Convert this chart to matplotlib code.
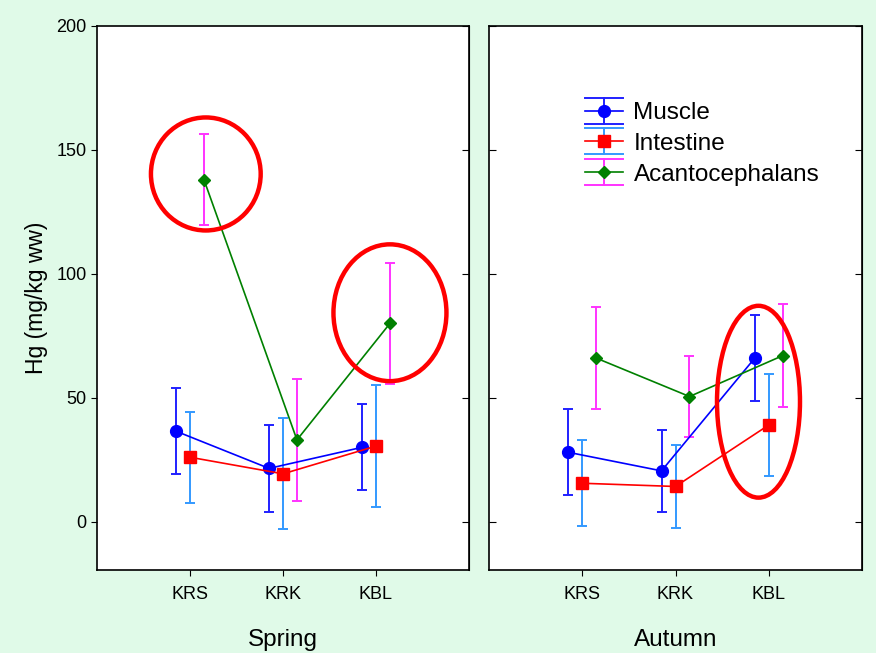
import matplotlib
matplotlib.use("Agg")
import matplotlib.pyplot as plt
import numpy as np
from matplotlib.patches import Ellipse
from matplotlib.lines import Line2D
from matplotlib.legend_handler import HandlerBase

plt.rcParams['font.family'] = ['Liberation Sans', 'DejaVu Sans']

sites = ['KRS', 'KRK', 'KBL']
seasons = ['Spring', 'Autumn']

# means and error (half-length)
muscle = {'Spring': [36.5, 21.5, 30.0], 'Autumn': [28.0, 20.5, 66.0]}
muscle_err = {'Spring': [17.3, 17.4, 17.3], 'Autumn': [17.4, 16.5, 17.4]}
intestine = {'Spring': [26.0, 19.3, 30.5], 'Autumn': [15.5, 14.2, 39.0]}
intestine_err = {'Spring': [18.3, 22.4, 24.5], 'Autumn': [17.3, 16.6, 20.6]}
acanto = {'Spring': [138.0, 33.0, 80.0], 'Autumn': [66.0, 50.5, 67.0]}
acanto_err = {'Spring': [18.3, 24.5, 24.5], 'Autumn': [20.6, 16.5, 20.7]}

series = [
    ('Muscle', muscle, muscle_err, '#0000ff', '#2020ff', 'o', 8.5, -0.15),
    ('Intestine', intestine, intestine_err, '#ff0000', '#3399ff', 's', 8, 0.0),
    ('Acantocephalans', acanto, acanto_err, '#008000', '#ff33ff', 'D', 6.5, 0.15),
]

# highlight ellipses: panel, centre x, centre y, width, height (data units)
highlights = [(0, 1.17, 140.3, 1.18, 45.6),
              (0, 3.15, 84.3, 1.215, 55.2),
              (1, 2.89, 48.4, 0.89, 77.4)]

bg = '#e0fae8'
fig = plt.figure(figsize=(8.76, 6.53), dpi=100, facecolor=bg)
ax1 = fig.add_axes([97 / 876, 83 / 653, 372 / 876, 544 / 653])
ax2 = fig.add_axes([489 / 876, 83 / 653, 373 / 876, 544 / 653])
axes = [ax1, ax2]

x = np.arange(1, len(sites) + 1)
for ax, season in zip(axes, seasons):
    for name, data, err, col, ecol, mk, ms, off in series:
        ax.errorbar(x + off, data[season], yerr=err[season], fmt='none',
                    ecolor=ecol, elinewidth=1.4, capsize=3.5, capthick=1.4, zorder=2)
        ax.plot(x + off, data[season], color=col, lw=1.2, marker=mk, ms=ms,
                mec=col, mfc=col, zorder=3)
    ax.set_xlim(0, 4)
    ax.set_ylim(-19.5, 200)
    ax.set_xticks(x)
    ax.set_xticklabels(sites, fontsize=13)
    ax.set_yticks([0, 50, 100, 150, 200])
    ax.set_xlabel(season, fontsize=17.5, labelpad=19)
    ax.tick_params(axis='x', direction='out', length=4, pad=7.5)
    for sp in ax.spines.values():
        sp.set_linewidth(1.2)

ax1.tick_params(axis='y', direction='out', length=4, labelsize=13, right=False)
ax1.set_ylabel('Hg (mg/kg ww)', fontsize=16.5, labelpad=6)
ax1.set_yticklabels(['0', '50', '100', '150', '200'])
for ax in axes:
    sec = ax.secondary_yaxis('right')
    sec.set_yticks([0, 50, 100, 150, 200])
    sec.tick_params(direction='in', length=5, labelright=False)
ax2.tick_params(axis='y', direction='in', length=5, labelleft=False)

for p, cx, cy, w, h in highlights:
    axes[p].add_patch(Ellipse((cx, cy), w, h, fill=False, ec='#ff0000', lw=3.2, zorder=5))


class Entry:
    def __init__(self, col, ecol, mk, ms):
        self.col, self.ecol, self.mk, self.ms = col, ecol, mk, ms


class ErrHandler(HandlerBase):
    def create_artists(self, legend, h, xd, yd, width, height, fontsize, trans):
        x0, x1 = -xd, width - xd
        yc = height / 2 - yd
        dy = 9.4
        xm = (x0 + x1) / 2
        arts = [Line2D([x0, x1], [yc + dy, yc + dy], color=h.ecol, lw=1.4),
                Line2D([x0, x1], [yc - dy, yc - dy], color=h.ecol, lw=1.4),
                Line2D([xm, xm], [yc - dy, yc + dy], color=h.ecol, lw=1.4),
                Line2D([x0, x1], [yc, yc], color=h.col, lw=1.2),
                Line2D([xm], [yc], marker=h.mk, ms=h.ms, color=h.col, ls='none')]
        for a in arts:
            a.set_transform(trans)
        return arts


handles = [Entry(s[3], s[4], s[5], s[6]) for s in series]
labels = [s[0] for s in series]
ax2.legend(handles, labels, handler_map={Entry: ErrHandler()}, loc='upper left',
           bbox_to_anchor=(0.257, 0.86), frameon=False, fontsize=17.5,
           borderpad=0, borderaxespad=0, handlelength=1.55, handletextpad=0.45,
           labelspacing=0.36)

fig.savefig('out.png', dpi=100, facecolor=bg)
